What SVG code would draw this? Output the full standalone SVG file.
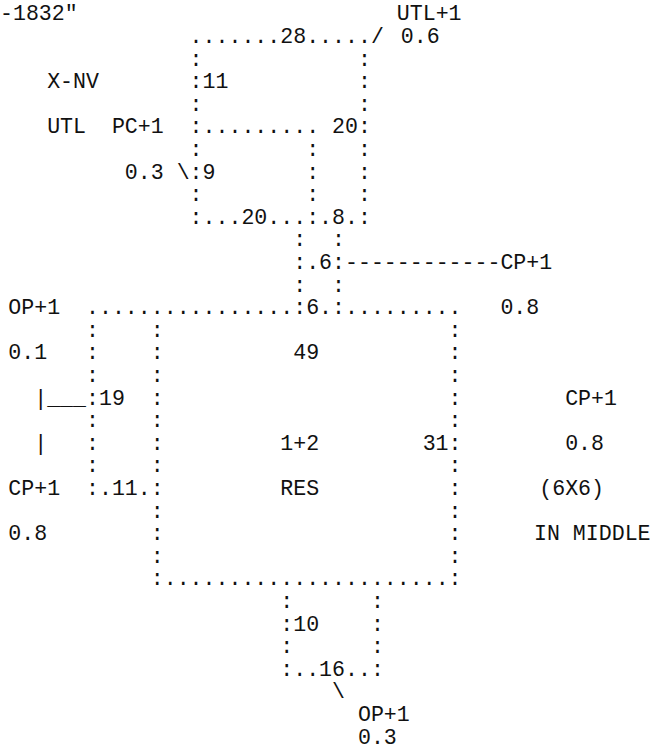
<svg xmlns="http://www.w3.org/2000/svg" width="652" height="752" viewBox="0 0 652 752">
<style>
text{font-family:"Liberation Mono","DejaVu Sans Mono",monospace;font-size:21.58px;fill:#111;white-space:pre}
</style>
<rect width="652" height="752" fill="#fff"/>
<g id="title"><text x="0" y="20.3" xml:space="preserve">-1832"</text></g>
<g id="upper-box">
<text x="189.6" y="42.9" xml:space="preserve">.......28.....</text>
<text x="189.6" y="65.5" xml:space="preserve">:            :</text>
<text x="189.6" y="88.1" xml:space="preserve">:11          :</text>
<text x="189.6" y="110.7" xml:space="preserve">:            :</text>
<text x="189.6" y="133.3" xml:space="preserve">:......... 20:</text>
<text x="189.6" y="155.9" xml:space="preserve">:        :   :</text>
<text x="189.6" y="178.5" xml:space="preserve">:9       :   :</text>
<text x="189.6" y="201.1" xml:space="preserve">:        :   :</text>
<text x="189.6" y="223.7" xml:space="preserve">:...20...:.8.:</text>
</g>
<g id="neck">
<text x="293.2" y="246.3" xml:space="preserve">:  :</text>
<text x="293.2" y="268.9" xml:space="preserve">:.6:</text>
<text x="293.2" y="291.5" xml:space="preserve">:  :</text>
</g>
<g id="main-box">
<text x="86" y="314.1" xml:space="preserve">................:6.:.........</text>
<text x="86" y="336.7" xml:space="preserve">:    :                      :</text>
<text x="86" y="359.3" xml:space="preserve">:    :          49          :</text>
<text x="86" y="381.9" xml:space="preserve">:    :                      :</text>
<text x="86" y="404.5" xml:space="preserve">:19  :                      :</text>
<text x="86" y="427.1" xml:space="preserve">:    :                      :</text>
<text x="86" y="449.7" xml:space="preserve">:    :         1+2        31:</text>
<text x="86" y="472.3" xml:space="preserve">:    :                      :</text>
<text x="86" y="494.9" xml:space="preserve">:.11.:         RES          :</text>
<text x="150.75" y="517.5" xml:space="preserve">:                      :</text>
<text x="150.75" y="540.1" xml:space="preserve">:                      :</text>
<text x="150.75" y="562.7" xml:space="preserve">:                      :</text>
<text x="150.75" y="585.3" xml:space="preserve">:......................:</text>
</g>
<g id="lower-box">
<text x="280.25" y="607.9" xml:space="preserve">:      :</text>
<text x="280.25" y="630.5" xml:space="preserve">:10    :</text>
<text x="280.25" y="653.1" xml:space="preserve">:      :</text>
<text x="280.25" y="675.7" xml:space="preserve">:..16..:</text>
</g>
<g id="connectors">
<text x="370.9" y="42.9">/</text>
<text x="176.65" y="178.5">\</text>
<text x="345" y="268.9" xml:space="preserve">------------</text>
<text x="34.2" y="404.5" xml:space="preserve">|___</text>
<text x="34.2" y="449.7">|</text>
<text x="332.05" y="698.3">\</text>
</g>
<g id="labels">
<text x="396.8" y="20.3">UTL+1</text>
<text x="400.8" y="42.9">0.6</text>
<text x="47.15" y="88.1">X-NV</text>
<text x="47.15" y="133.3">UTL</text>
<text x="111.9" y="133.3">PC+1</text>
<text x="124.85" y="178.5">0.3</text>
<text x="500.4" y="268.9">CP+1</text>
<text x="8.3" y="314.1">OP+1</text>
<text x="500.4" y="314.1">0.8</text>
<text x="8.3" y="359.3">0.1</text>
<text x="565.15" y="404.5">CP+1</text>
<text x="565.15" y="449.7">0.8</text>
<text x="8.3" y="494.9">CP+1</text>
<text x="539.25" y="494.9">(6X6)</text>
<text x="8.3" y="540.1">0.8</text>
<text x="534" y="540.1" xml:space="preserve">IN MIDDLE</text>
<text x="357.95" y="720.9">OP+1</text>
<text x="357.95" y="743.5">0.3</text>
</g>
</svg>
